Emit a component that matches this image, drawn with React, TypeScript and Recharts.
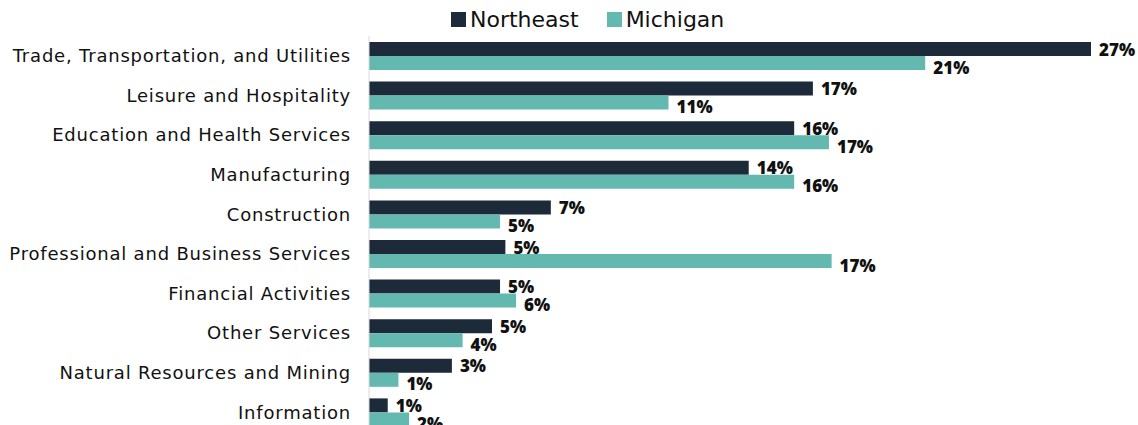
import React from 'react';
import { BarChart, Bar, XAxis, YAxis, LabelList } from 'recharts';

const categories = [
  'Trade, Transportation, and Utilities',
  'Leisure and Hospitality',
  'Education and Health Services',
  'Manufacturing',
  'Construction',
  'Professional and Business Services',
  'Financial Activities',
  'Other Services',
  'Natural Resources and Mining',
  'Information',
];

const northeast = [27, 16.6, 15.9, 14.2, 6.8, 5.1, 4.9, 4.6, 3.1, 0.7];
const michigan = [20.8, 11.2, 17.2, 15.9, 4.9, 17.3, 5.5, 3.5, 1.1, 1.5];

const seriesNames = ['Northeast', 'Michigan'];
const DARK = '#1c2a39';
const TEAL = '#63b8b0';
const TEXT_FONT = "'DejaVu Sans', sans-serif";
const LABEL_FONT = "'Open Sans', sans-serif";

const data = categories.map((name, i) => ({
  name,
  northeast: northeast[i],
  michigan: michigan[i],
}));

const makeLabel = (dy: number) => (props: any) => {
  const { x, y, width, height, value } = props;
  return (
    <text
      x={x + width + 8}
      y={y + height / 2 + dy}
      dominantBaseline='central'
      fontFamily={LABEL_FONT}
      fontWeight={800}
      fontSize={17}
      fill='#111'
    >
      {`${Math.round(value)}%`}
    </text>
  );
};

const App: React.FC = () => {
  return (
    <div
      style={{
        position: 'absolute',
        left: 0,
        top: 0,
        width: 1138,
        height: 425,
        overflow: 'hidden',
        fontFamily: TEXT_FONT,
      }}
    >
      <div
        style={{
          position: 'absolute',
          left: 451,
          top: 7,
          display: 'flex',
          alignItems: 'center',
          fontSize: 22,
          color: '#111',
        }}
      >
        {seriesNames.map((s, i) => (
          <div
            key={s}
            style={{ display: 'flex', alignItems: 'center', marginRight: 28 }}
          >
            <span
              style={{
                display: 'inline-block',
                width: 15,
                height: 15,
                background: i === 0 ? DARK : TEAL,
                marginRight: 4,
              }}
            />
            {s}
          </div>
        ))}
      </div>
      <BarChart
        width={1138}
        height={440}
        data={data}
        layout='vertical'
        margin={{ top: 36, right: 47, bottom: 8, left: 0 }}
        barCategoryGap={6}
        barGap={0}
      >
        <XAxis type='number' domain={[0, 27]} hide />
        <YAxis
          type='category'
          dataKey='name'
          width={369}
          tickSize={0}
          tickMargin={18}
          axisLine={{ stroke: '#d9d9d9' }}
          tick={{
            fontSize: 18,
            fill: '#111',
            fontFamily: TEXT_FONT,
            letterSpacing: 0.8,
          }}
          interval={0}
        />
        <Bar dataKey='northeast' fill={DARK} isAnimationActive={false}>
          <LabelList dataKey='northeast' content={makeLabel(0)} />
        </Bar>
        <Bar dataKey='michigan' fill={TEAL} isAnimationActive={false}>
          <LabelList dataKey='michigan' content={makeLabel(4)} />
        </Bar>
      </BarChart>
    </div>
  );
};

export default App;
